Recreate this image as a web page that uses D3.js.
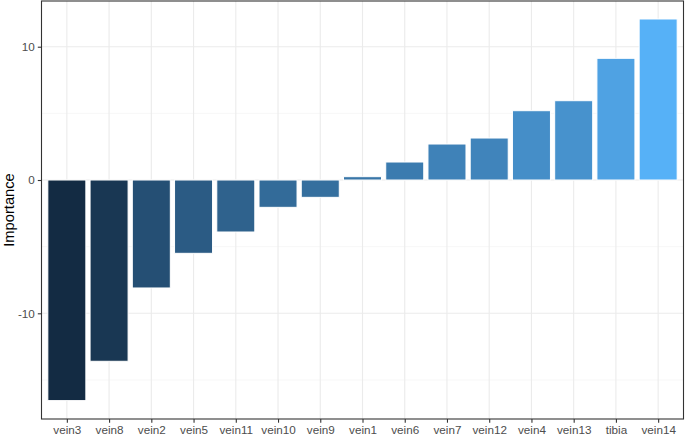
<!DOCTYPE html>
<html><head><meta charset="utf-8">
<script src="https://cdn.jsdelivr.net/npm/d3@7"></script>
<style>body{margin:0;background:#fff}svg text{font-family:"Liberation Sans",Arial,sans-serif}</style>
</head><body><svg id="c" width="685" height="440"></svg>
<script>
const categories = ["vein3","vein8","vein2","vein5","vein11","vein10","vein9","vein1","vein6","vein7","vein12","vein4","vein13","tibia","vein14"];
const importance = [-16.55,-13.6,-8.1,-5.5,-3.9,-2.05,-1.3,0.25,1.35,2.7,3.15,5.2,5.95,9.13,12.08];
const yTicks = [-10,0,10];
const yMinor = [-15,-5,5];

const svg = d3.select("#c");
const L = 41.5, R = 683.5, T = 1, B = 419;
const n = categories.length;
const unit = (R - L) / (n - 1 + 1.2);
const x = d3.scalePoint().domain(categories).range([L + 0.6*unit, R - 0.6*unit]);
const y = d3.scaleLinear().domain([-17.93, 13.43]).range([B, T]);
const col = d3.scaleLinear().domain(d3.extent(importance)).range(["#132B43","#56B1F7"]).interpolate(d3.interpolateLab);

svg.append("rect").attr("x",L).attr("y",T).attr("width",R-L).attr("height",B-T).attr("fill","#fff");
const g = svg.append("g");
g.selectAll(".mn").data(yMinor).join("line").attr("x1",L).attr("x2",R).attr("y1",d=>y(d)).attr("y2",d=>y(d)).attr("stroke","#F2F2F2").attr("stroke-width",0.6);
g.selectAll(".mj").data(yTicks).join("line").attr("x1",L).attr("x2",R).attr("y1",d=>y(d)).attr("y2",d=>y(d)).attr("stroke","#EBEBEB").attr("stroke-width",1.1);
g.selectAll(".vx").data(categories).join("line").attr("x1",d=>x(d)).attr("x2",d=>x(d)).attr("y1",T).attr("y2",B).attr("stroke","#EBEBEB").attr("stroke-width",1.1);

const bw = 0.9*unit;
svg.append("g").selectAll("rect").data(categories).join("rect")
  .attr("x",d=>x(d)-bw/2).attr("width",bw)
  .attr("y",(d,i)=>Math.min(y(importance[i]),y(0)))
  .attr("height",(d,i)=>Math.abs(y(importance[i])-y(0)))
  .attr("fill",(d,i)=>col(importance[i]))
  .attr("stroke","#fff").attr("stroke-width",1);

svg.append("rect").attr("x",L).attr("y",T).attr("width",R-L).attr("height",B-T).attr("fill","none").attr("stroke","#333333").attr("stroke-width",1.1);

const ya = svg.append("g").attr("transform",`translate(${L},0)`).call(d3.axisLeft(y).tickValues(yTicks).tickFormat(d=>String(d)).tickSize(3.7).tickPadding(3));
ya.select(".domain").remove();
ya.selectAll("line").attr("stroke","#333333").attr("stroke-width",1.1);
ya.selectAll("text").attr("fill","#4D4D4D").attr("font-size","11.7px").style("font-family","Liberation Sans, Arial, sans-serif");

const xa = svg.append("g").attr("transform",`translate(0,${B})`).call(d3.axisBottom(x).tickSize(3.7).tickPadding(3));
xa.select(".domain").remove();
xa.selectAll("line").attr("stroke","#333333").attr("stroke-width",1.1);
xa.selectAll("text").attr("fill","#4D4D4D").attr("font-size","11.7px").style("font-family","Liberation Sans, Arial, sans-serif");

svg.append("text").attr("transform",`translate(14,${(T+B)/2}) rotate(-90)`).attr("text-anchor","middle")
  .attr("font-size","14.7px").attr("fill","#000").text("Importance");
</script></body></html>
